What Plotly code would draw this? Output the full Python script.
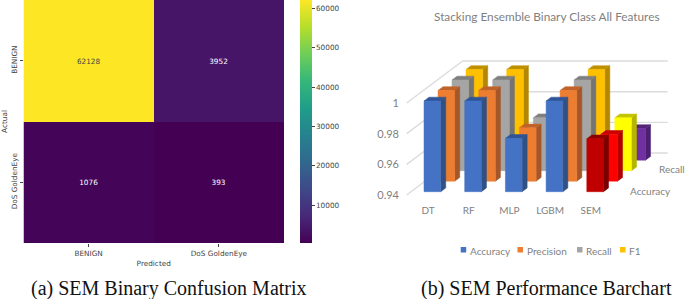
import plotly.graph_objects as go

# ---- data: confusion matrix
cm_actual = ["BENIGN", "DoS GoldenEye"]
cm_predicted = ["BENIGN", "DoS GoldenEye"]
cm_row_benign = [62128, 3952]
cm_row_dos = [1076, 393]
cbar_ticks = [10000, 20000, 30000, 40000, 50000, 60000]

# ---- data: bar chart
models = ["DT", "RF", "MLP", "LGBM", "SEM"]
metrics = ["Accuracy", "Precision", "Recall", "F1"]
accuracy = [0.9992, 0.9992, 0.9748, 0.9992, 0.9745]
precision = [0.9992, 0.9992, 0.9748, 0.9992, 0.9706]
recall = [0.9992, 0.9992, 0.9746, 0.9992, 0.9745]
f1 = [0.9992, 0.9992, 0.975, 0.9992, 0.9607]
value_ticks = [0.94, 0.96, 0.98, 1]
depth_labels = {"Accuracy": 0, "Recall": 2}

W, H = 685, 299
def px(x): return x / W
def py(y): return 1 - y / H

# ---- oblique projection of the bar chart onto its flat axes
COL = 40.7           # pixels per model
VAL = 1533.0         # pixels per unit of score
ROW_X, ROW_Y = 14.0, 10.5   # shift per metric row
ORIGIN_X, ORIGIN_Y = 419.6, 195.0
BASE = 0.94
BAR_W = 16.7 / COL
DEPTH = 0.36         # depth of one bar, in rows
FIRST_ROW = 0.314

def proj(col, row, v):
    return col + row * ROW_X / COL, v + row * ROW_Y / VAL

def face(points, colour):
    xs, ys = zip(*[proj(*p) for p in points + points[:1]])
    return go.Scatter(x=xs, y=ys, mode="lines", fill="toself", fillcolor=colour,
                      line=dict(color=colour, width=0.5), xaxis="x2", yaxis="y2",
                      showlegend=False, hoverinfo="skip")

metric_values = [accuracy, precision, recall, f1]
face_colours = {
    "front": ["#4472C4", "#ED7D31", "#A5A5A5", "#FFC000"],
    "side": ["#2F5185", "#A5572A", "#747474", "#B38800"],
    "top": ["#2F5597", "#C0632A", "#7F7F7F", "#BF9000"],
}
sem_colours = {
    "front": ["#C00000", "#FF0000", "#FFFF00", "#7030A0"],
    "side": ["#7A0000", "#B00000", "#B5B500", "#4C2070"],
    "top": ["#8E0000", "#C80000", "#C4C400", "#54247A"],
}

fig = go.Figure()

# heatmap
fig.add_trace(go.Heatmap(
    z=[cm_row_benign, cm_row_dos], x=cm_predicted, y=cm_actual,
    colorscale="Viridis", zmin=393, zmax=62128, xgap=0, ygap=0,
    texttemplate="%{z:d}", textfont=dict(family="DejaVu Sans", size=7.3),
    hoverinfo="skip",
    colorbar=dict(x=px(300), xanchor="left", xref="paper", y=py(243), yanchor="bottom", yref="paper",
                  len=243 / H, lenmode="fraction", thickness=12, thicknessmode="pixels",
                  outlinewidth=0, xpad=0, ypad=0, tickvals=cbar_ticks, ticktext=[str(t) for t in cbar_ticks],
                  ticks="outside", ticklen=3,
                  tickwidth=0.8, tickcolor="#444", tickfont=dict(family="DejaVu Sans", size=7.3, color="#444")),
))

# walls' gridlines
END_COL = 4.72
for v in value_ticks:
    xs, ys = zip(proj(-0.317, 0, v), proj(-0.317, 4, v), proj(END_COL, 4, v))
    fig.add_trace(go.Scatter(x=xs, y=ys, mode="lines", line=dict(color="#DCDCDC", width=1.4),
                             xaxis="x2", yaxis="y2", showlegend=False, hoverinfo="skip"))

# bars, back row first
for j in range(len(metrics) - 1, -1, -1):
    for i in range(len(models)):
        v = metric_values[j][i]
        pal = sem_colours if models[i] == "SEM" else face_colours
        r0, r1 = j + FIRST_ROW, j + FIRST_ROW + DEPTH
        l, rt = i, i + BAR_W
        fig.add_trace(face([(rt, r0, BASE), (rt, r1, BASE), (rt, r1, v), (rt, r0, v)], pal["side"][j]))
        fig.add_trace(face([(l, r0, v), (rt, r0, v), (rt, r1, v), (l, r1, v)], pal["top"][j]))
        fig.add_trace(face([(l, r0, BASE), (rt, r0, BASE), (rt, r0, v), (l, r0, v)], pal["front"][j]))

GREY = "#7F7F7F"
LATO = "Lato"
def note(text, x, y, font, anchor="center"):
    return dict(text=text, x=px(x), y=py(y), xref="paper", yref="paper", xanchor=anchor, yanchor="middle",
                showarrow=False, font=font)

annotations = [
    note("(a) SEM Binary Confusion Matrix", 169, 288, dict(family="Liberation Serif", size=20, color="#111")),
    note("(b) SEM Performance Barchart", 546.5, 288, dict(family="Liberation Serif", size=20, color="#111")),
    note("Stacking Ensemble Binary Class All Features", 546.5, 17, dict(family=LATO, size=11.8, color=GREY)),
]
# depth-axis labels
for name, row in depth_labels.items():
    xp = 650.7 if row == 0 else 672
    yp = 190.7 if row == 0 else 169.3
    annotations.append(note(name, xp, yp, dict(family=LATO, size=10, color=GREY)))

# legend row
shapes = []
legend_x = [460.7, 517.5, 577, 620]
for name, colour, lx in zip(metrics, face_colours["front"], legend_x):
    shapes.append(dict(type="rect", xref="paper", yref="paper", x0=px(lx), x1=px(lx + 5.5), y0=py(252.5), y1=py(247),
                       fillcolor=colour, line_width=0))
    annotations.append(note(name, lx + 7, 250.5, dict(family=LATO, size=10, color=GREY), anchor="left"))

dx0, dx1 = 400, 684
dy0, dy1 = 42, 203
fig.update_layout(
    width=W, height=H, margin=dict(l=0, r=0, t=0, b=0, autoexpand=False),
    paper_bgcolor="white", plot_bgcolor="white", showlegend=False,
    annotations=annotations, shapes=shapes,
    xaxis=dict(domain=[px(23.5), px(284)], side="bottom", showgrid=False, zeroline=False,
               ticks="outside", ticklen=3, tickwidth=0.8, tickcolor="#444",
               tickfont=dict(family="DejaVu Sans", size=7.3, color="#444"),
               title=dict(text="Predicted", font=dict(family="DejaVu Sans", size=7.3, color="#444"), standoff=4)),
    yaxis=dict(domain=[py(243), py(0)], autorange="reversed", showgrid=False, zeroline=False,
               ticks="outside", ticklen=3, tickwidth=0.8, tickcolor="#444", tickangle=-90,
               tickfont=dict(family="DejaVu Sans", size=7.3, color="#444"),
               title=dict(text="Actual", font=dict(family="DejaVu Sans", size=7.3, color="#444"), standoff=4)),
    xaxis2=dict(domain=[px(dx0), px(dx1)], anchor="y2",
                range=[(dx0 - ORIGIN_X) / COL, (dx1 - ORIGIN_X) / COL],
                tickvals=[i + 0.206 for i in range(len(models))], ticktext=models,
                showgrid=False, zeroline=False, showline=False, ticks="",
                tickfont=dict(family=LATO, size=10, color=GREY)),
    yaxis2=dict(domain=[py(dy1), py(dy0)], anchor="x2",
                range=[BASE + (ORIGIN_Y - dy1) / VAL, BASE + (ORIGIN_Y - dy0) / VAL],
                tickvals=value_ticks, ticktext=[str(v) for v in value_ticks],
                showgrid=False, zeroline=False, showline=False, ticks="",
                tickfont=dict(family=LATO, size=11, color=GREY)),
)
fig.write_html("out.html", config={"displayModeBar": False},
               post_script="document.body.style.margin='0';document.body.style.overflow='hidden';")
